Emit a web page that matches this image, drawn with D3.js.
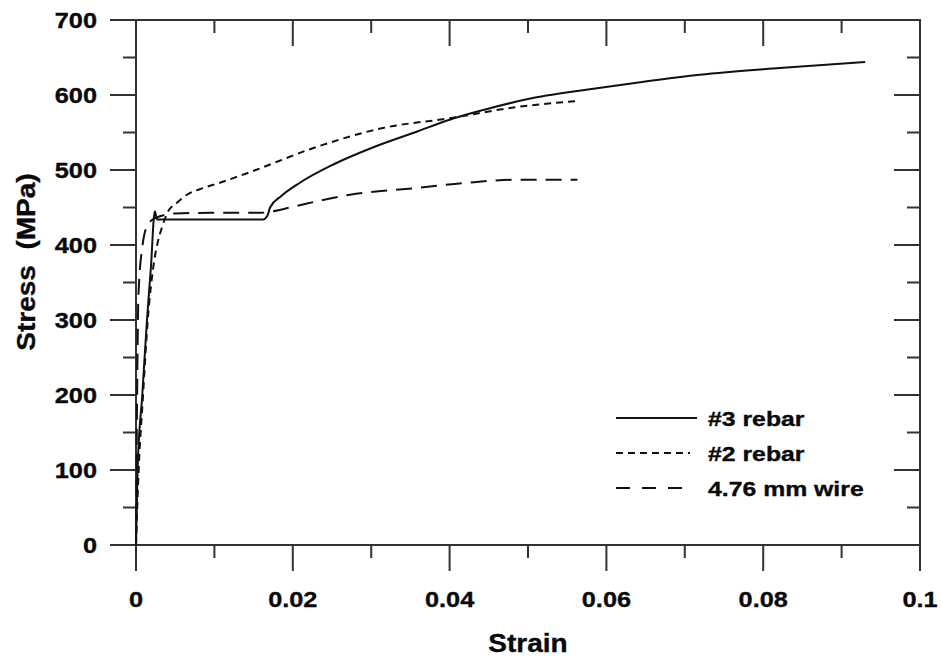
<!DOCTYPE html>
<html>
<head>
<meta charset="utf-8">
<script src="https://cdn.jsdelivr.net/npm/d3@7"></script>
<style>
  body { margin: 0; background: #fff; }
  text { font-family: "Liberation Sans", Arial, sans-serif; font-weight: bold; fill: #0a0a0a; stroke: #0a0a0a; stroke-width: 0.35px; }
</style>
</head>
<body>
<svg id="chart-svg" width="941" height="657"></svg>
<script>
// #3 rebar (solid)
const strain3 = [0, 0.0002, 0.0008, 0.0014, 0.0019, 0.0024, 0.0027, 0.006, 0.010, 0.014, 0.0162, 0.0168, 0.0171, 0.0185, 0.0209, 0.0251, 0.0302, 0.0358, 0.040, 0.0443, 0.0506, 0.0588, 0.065, 0.0719, 0.0821, 0.093];
const stress3 = [0, 100, 200, 300, 370, 445, 434, 434, 434, 434, 434, 440, 450, 465, 483, 507, 530, 551, 567, 580, 596, 609, 618, 627, 636, 644];
// #2 rebar (short dash)
const strain2 = [0, 0.0003, 0.0009, 0.0015, 0.0022, 0.0028, 0.0033, 0.004, 0.0052, 0.0065, 0.0086, 0.0107, 0.0145, 0.0231, 0.0315, 0.040, 0.0486, 0.0563];
const stress2 = [0, 90, 200, 300, 370, 405, 423, 443, 456, 467, 476, 483, 497, 531, 556, 569, 584, 592];
// 4.76 mm wire (long dash)
const strainW = [0, 0.0001, 0.0002, 0.0003, 0.0008, 0.0015, 0.0025, 0.005, 0.010, 0.016, 0.0175, 0.020, 0.0273, 0.0358, 0.0422, 0.0486, 0.0563];
const stressW = [0, 150, 260, 330, 397, 427, 436, 442, 443, 443, 445, 451, 467, 476, 483, 487, 487];

const xTicks = [0, 0.02, 0.04, 0.06, 0.08, 0.1];
const xTickLabels = ["0", "0.02", "0.04", "0.06", "0.08", "0.1"];
const xMinor = [0.01, 0.03, 0.05, 0.07, 0.09];
const yTicks = [0, 100, 200, 300, 400, 500, 600, 700];
const yMinor = [50, 150, 250, 350, 450, 550, 650];

const seriesNames = ["#3 rebar", "#2 rebar", "4.76 mm wire"];
const seriesDash = [null, "7,5", "16,9"];

const svg = d3.select("#chart-svg");
const pLeft = 136, pRight = 920, pTop = 20, pBottom = 545;

const x = d3.scaleLinear().domain([0, 0.1]).range([pLeft, pRight]);
const y = d3.scaleLinear().domain([0, 700]).range([pBottom, pTop]);

const axisColor = "#333";
const major = 26, minor = 13;

// stretched text helper (reference text is wider than its height)
function label(g, tx, ty, str, size, anchor, sx, rot) {
  return g.append("text")
    .attr("transform", "translate(" + tx + "," + ty + ")" + (rot ? " rotate(" + rot + ")" : "") + " scale(" + sx + ",1)")
    .attr("text-anchor", anchor)
    .style("font-size", size + "px")
    .style("white-space", "pre")
    .text(str);
}

const ax = svg.append("g");
// frame
ax.append("rect").attr("x", pLeft).attr("y", pTop).attr("width", pRight - pLeft).attr("height", pBottom - pTop)
  .attr("fill", "none").attr("stroke", axisColor).attr("stroke-width", 2);

// bottom ticks (outward) and top ticks (inward)
function xt(vals, len) {
  vals.forEach(v => {
    ax.append("line").attr("x1", x(v)).attr("x2", x(v)).attr("y1", pBottom).attr("y2", pBottom + len)
      .attr("stroke", axisColor).attr("stroke-width", 2);
    ax.append("line").attr("x1", x(v)).attr("x2", x(v)).attr("y1", pTop).attr("y2", pTop + len)
      .attr("stroke", axisColor).attr("stroke-width", 2);
  });
}
xt(xTicks, major);
xt(xMinor, minor);

// left ticks (outward) and right ticks (inward)
function yt(vals, len) {
  vals.forEach(v => {
    ax.append("line").attr("x1", pLeft - len).attr("x2", pLeft).attr("y1", y(v)).attr("y2", y(v))
      .attr("stroke", axisColor).attr("stroke-width", 2);
    ax.append("line").attr("x1", pRight - len).attr("x2", pRight).attr("y1", y(v)).attr("y2", y(v))
      .attr("stroke", axisColor).attr("stroke-width", 2);
  });
}
yt(yTicks, major);
yt(yMinor, minor);

xTicks.forEach((v, i) => label(ax, x(v), 607, xTickLabels[i], 22, "middle", 1.15));
yTicks.forEach(v => label(ax, 97, y(v) + 8, String(v), 22, "end", 1.15));

label(ax, (pLeft + pRight) / 2, 652, "Strain", 25, "middle", 1.12);
label(ax, 35, 262, "Stress  (MPa)", 25, "middle", 1.12, -90);

// curves
const line = d3.line().x(d => x(d[0])).y(d => y(d[1])).curve(d3.curveMonotoneX);
const data = [
  d3.zip(strain3, stress3),
  d3.zip(strain2, stress2),
  d3.zip(strainW, stressW)
];
data.forEach((d, i) => {
  svg.append("path").datum(d)
    .attr("fill", "none")
    .attr("stroke", "#111")
    .attr("stroke-width", 2)
    .attr("stroke-dasharray", seriesDash[i])
    .attr("d", line);
});

// legend
const legY = [418, 453, 488];
const lg = svg.append("g");
seriesNames.forEach((n, i) => {
  lg.append("line").attr("x1", 616).attr("x2", i == 0 ? 697 : 690).attr("y1", legY[i]).attr("y2", legY[i])
    .attr("stroke", "#111").attr("stroke-width", 2.2)
    .attr("stroke-dasharray", i == 2 ? "14,12" : seriesDash[i]);
  label(lg, 708, legY[i] + 8, n, 20, "start", 1.24);
});
</script>
</body>
</html>
